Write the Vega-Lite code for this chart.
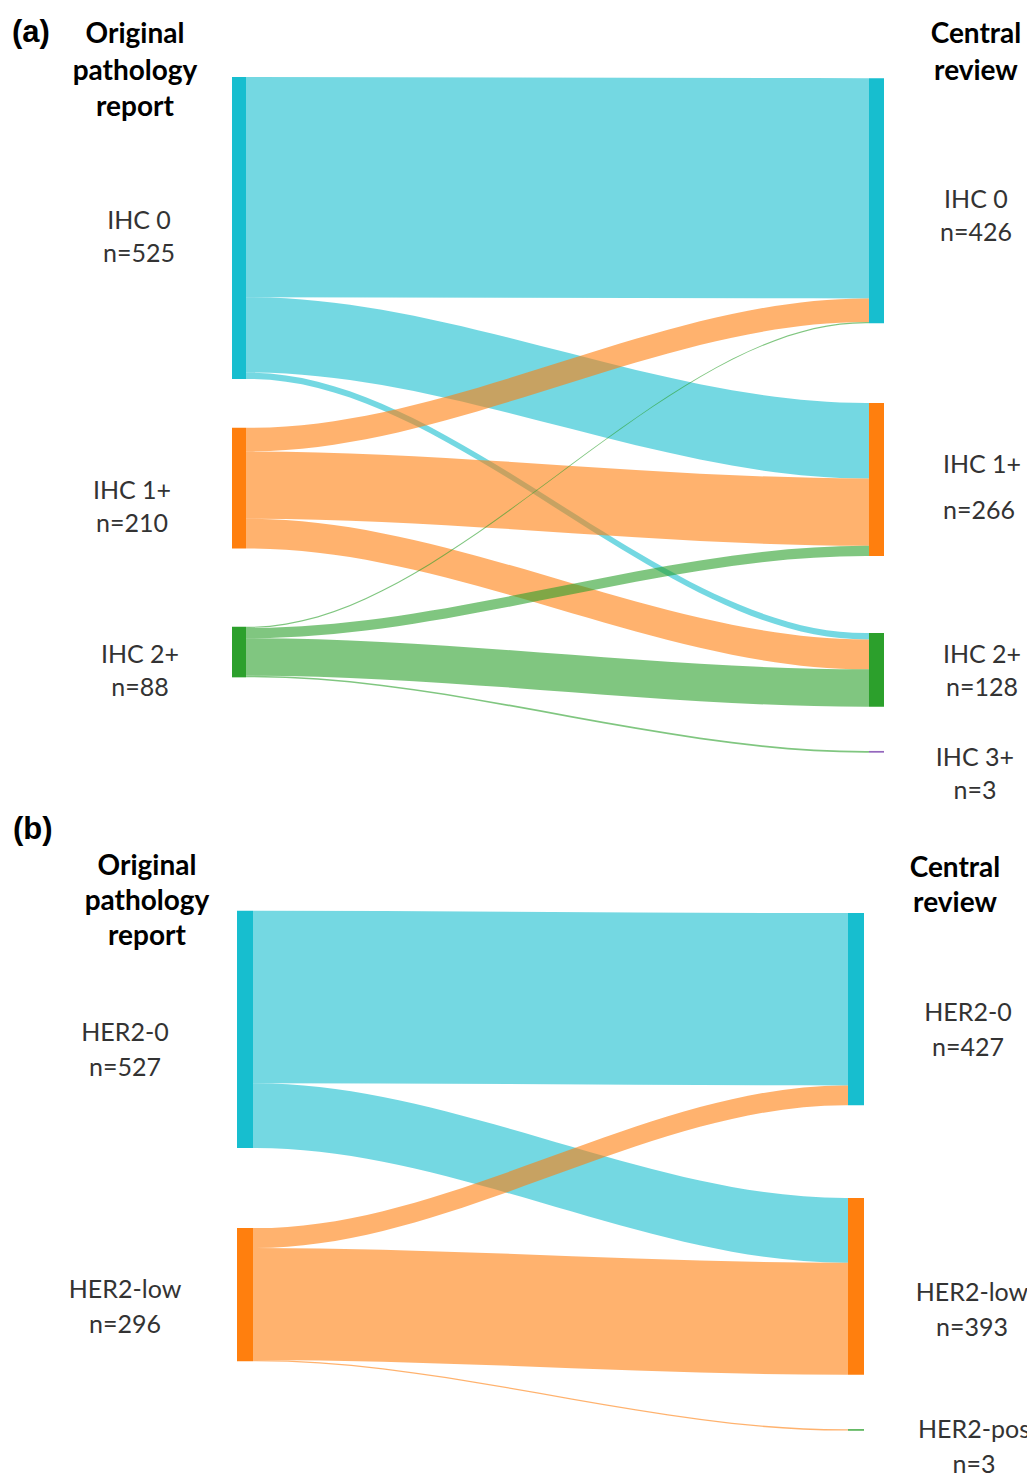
{
  "$schema": "https://vega.github.io/schema/vega-lite/v6.json",
  "padding": 0,
  "spacing": 0,
  "background": "white",
  "config": {"view": {"stroke": null}, "axis": {"disable": true}, "legend": {"disable": true}},
  "resolve": {"scale": {"x": "independent", "y": "independent"}},
  "datasets": {
    "flowsA": [
      {"flow": "F1", "src": "IHC 0", "tgt": "IHC 0", "x": [0, 0.005, 0.995, 1], "top": [134, 134, 136, 136], "bottom": [517, 517, 519, 519]},
      {"flow": "F2", "src": "IHC 0", "tgt": "IHC 1+", "x": [0, 0.005, 0.995, 1], "top": [517, 517, 701, 701], "bottom": [648, 648, 832, 832]},
      {"flow": "F3", "src": "IHC 0", "tgt": "IHC 2+", "x": [0, 0.005, 0.995, 1], "top": [648, 648, 1101, 1101], "bottom": [659, 659, 1112, 1112]},
      {"flow": "F4", "src": "IHC 1+", "tgt": "IHC 0", "x": [0, 0.005, 0.995, 1], "top": [744, 744, 519, 519], "bottom": [785, 785, 560, 560]},
      {"flow": "F5", "src": "IHC 1+", "tgt": "IHC 1+", "x": [0, 0.005, 0.995, 1], "top": [785, 785, 832, 832], "bottom": [902, 902, 949, 949]},
      {"flow": "F6", "src": "IHC 1+", "tgt": "IHC 2+", "x": [0, 0.005, 0.995, 1], "top": [902, 902, 1112, 1112], "bottom": [954, 954, 1164, 1164]},
      {"flow": "F7", "src": "IHC 2+", "tgt": "IHC 0", "x": [0, 0.005, 0.995, 1], "top": [1090, 1090, 560, 560], "bottom": [1092, 1092, 562, 562]},
      {"flow": "F8", "src": "IHC 2+", "tgt": "IHC 1+", "x": [0, 0.005, 0.995, 1], "top": [1092, 1092, 949, 949], "bottom": [1110, 1110, 967, 967]},
      {"flow": "F9", "src": "IHC 2+", "tgt": "IHC 2+", "x": [0, 0.005, 0.995, 1], "top": [1110, 1110, 1164, 1164], "bottom": [1175, 1175, 1229, 1229]},
      {"flow": "F10", "src": "IHC 2+", "tgt": "IHC 3+", "x": [0, 0.005, 0.995, 1], "top": [1175, 1175, 1306, 1306], "bottom": [1178, 1178, 1309, 1309]}
    ],
    "nodesA": [
      {"side": "L", "node": "IHC 0", "top": 134, "bottom": 659},
      {"side": "L", "node": "IHC 1+", "top": 744, "bottom": 954},
      {"side": "L", "node": "IHC 2+", "top": 1090, "bottom": 1178},
      {"side": "R", "node": "IHC 0", "top": 136, "bottom": 562},
      {"side": "R", "node": "IHC 1+", "top": 701, "bottom": 967},
      {"side": "R", "node": "IHC 2+", "top": 1101, "bottom": 1229},
      {"side": "R", "node": "IHC 3+", "top": 1306, "bottom": 1309}
    ],
    "labelsA": [
      {"role": "panel", "text": "(a)", "x": -0.3756, "y": 57},
      {"role": "title", "text": ["Original", "pathology", "report"], "x": -0.1782, "y": 60.9},
      {"role": "title", "text": ["Central", "review"], "x": 1.1717, "y": 60.9},
      {"role": "node", "text": ["IHC 0", "n=525"], "x": -0.1717, "y": 384.3},
      {"role": "node", "text": ["IHC 1+", "n=210"], "x": -0.183, "y": 853.9},
      {"role": "node", "text": ["IHC 2+", "n=88"], "x": -0.1701, "y": 1139.1},
      {"role": "node", "text": ["IHC 0", "n=426"], "x": 1.1717, "y": 347.8},
      {"role": "node", "text": "IHC 1+", "x": 1.1814, "y": 809},
      {"role": "node", "text": "n=266", "x": 1.1766, "y": 889},
      {"role": "node", "text": ["IHC 2+", "n=128"], "x": 1.1814, "y": 1139.1},
      {"role": "node", "text": ["IHC 3+", "n=3"], "x": 1.1701, "y": 1318.3}
    ],
    "flowsB": [
      {"flow": "G1", "src": "HER2-0", "tgt": "HER2-0", "x": [0, 0.005, 0.995, 1], "top": [213, 213, 218, 218], "bottom": [596, 596, 601, 601]},
      {"flow": "G2", "src": "HER2-0", "tgt": "HER2-low", "x": [0, 0.005, 0.995, 1], "top": [596, 596, 851, 851], "bottom": [740, 740, 995, 995]},
      {"flow": "G3", "src": "HER2-low", "tgt": "HER2-0", "x": [0, 0.005, 0.995, 1], "top": [918, 918, 601, 601], "bottom": [962, 962, 645, 645]},
      {"flow": "G4", "src": "HER2-low", "tgt": "HER2-low", "x": [0, 0.005, 0.995, 1], "top": [962, 962, 995, 995], "bottom": [1211, 1211, 1244, 1244]},
      {"flow": "G5", "src": "HER2-low", "tgt": "HER2-pos", "x": [0, 0.005, 0.995, 1], "top": [1211, 1211, 1365, 1365], "bottom": [1214, 1214, 1368, 1368]}
    ],
    "nodesB": [
      {"side": "L", "node": "HER2-0", "top": 213, "bottom": 740},
      {"side": "L", "node": "HER2-low", "top": 918, "bottom": 1214},
      {"side": "R", "node": "HER2-0", "top": 218, "bottom": 645},
      {"side": "R", "node": "HER2-low", "top": 851, "bottom": 1244},
      {"side": "R", "node": "HER2-pos", "top": 1365, "bottom": 1368}
    ],
    "labelsB": [
      {"role": "panel", "text": "(b)", "x": -0.4034, "y": 33},
      {"role": "title", "text": ["Original", "pathology", "report"], "x": -0.1782, "y": 115.6},
      {"role": "title", "text": ["Central", "review"], "x": 1.1798, "y": 120},
      {"role": "node", "text": ["HER2-0", "n=527"], "x": -0.2151, "y": 484.4},
      {"role": "node", "text": ["HER2-low", "n=296"], "x": -0.2151, "y": 1055.6},
      {"role": "node", "text": ["HER2-0", "n=427"], "x": 1.2017, "y": 440},
      {"role": "node", "text": ["HER2-low", "n=393"], "x": 1.2084, "y": 1062.2},
      {"role": "node", "text": ["HER2-pos", "n=3"], "x": 1.2118, "y": 1366.7}
    ]
  },
  "vconcat": [
    {
      "width": 1027,
      "height": 815,
      "layer": [
        {
          "data": {"name": "flowsA"},
          "transform": [{"flatten": ["x", "top", "bottom"]}],
          "mark": {"type": "area", "interpolate": "monotone", "opacity": 0.6},
          "encoding": {
            "x": {"field": "x", "type": "quantitative", "scale": {"domain": [-0.39486, 1.25362], "nice": false, "zero": false}},
            "y": {"field": "top", "type": "quantitative", "stack": null, "scale": {"domain": [0, 1417.4], "reverse": true, "nice": false, "zero": false}},
            "y2": {"field": "bottom"},
            "color": {"field": "src", "type": "nominal", "scale": {"domain": ["IHC 0", "IHC 1+", "IHC 2+", "IHC 3+", "HER2-0", "HER2-low", "HER2-pos"], "range": ["#17becf", "#ff7f0e", "#2ca02c", "#9467bd", "#17becf", "#ff7f0e", "#2ca02c"]}},
            "detail": {"field": "flow"}
          }
        },
        {
          "data": {"name": "nodesA"},
          "transform": [{"filter": "datum.side === 'L'"}],
          "mark": {"type": "rect"},
          "encoding": {
            "x": {"datum": -0.02247, "type": "quantitative", "scale": {"domain": [-0.39486, 1.25362], "nice": false, "zero": false}},
            "x2": {"datum": 0},
            "y": {"field": "top", "type": "quantitative", "scale": {"domain": [0, 1417.4], "reverse": true, "nice": false, "zero": false}},
            "y2": {"field": "bottom"},
            "color": {"field": "node", "type": "nominal", "scale": {"domain": ["IHC 0", "IHC 1+", "IHC 2+", "IHC 3+", "HER2-0", "HER2-low", "HER2-pos"], "range": ["#17becf", "#ff7f0e", "#2ca02c", "#9467bd", "#17becf", "#ff7f0e", "#2ca02c"]}}
          }
        },
        {
          "data": {"name": "nodesA"},
          "transform": [{"filter": "datum.side === 'R'"}],
          "mark": {"type": "rect"},
          "encoding": {
            "x": {"datum": 1, "type": "quantitative", "scale": {"domain": [-0.39486, 1.25362], "nice": false, "zero": false}},
            "x2": {"datum": 1.02408},
            "y": {"field": "top", "type": "quantitative", "scale": {"domain": [0, 1417.4], "reverse": true, "nice": false, "zero": false}},
            "y2": {"field": "bottom"},
            "color": {"field": "node", "type": "nominal", "scale": {"domain": ["IHC 0", "IHC 1+", "IHC 2+", "IHC 3+", "HER2-0", "HER2-low", "HER2-pos"], "range": ["#17becf", "#ff7f0e", "#2ca02c", "#9467bd", "#17becf", "#ff7f0e", "#2ca02c"]}}
          }
        },
        {
          "data": {"name": "labelsA"},
          "transform": [{"filter": "datum.role === 'panel'"}],
          "mark": {"type": "text", "font": "Liberation Sans", "fontWeight": "bold", "fontSize": 31, "color": "#000000", "align": "left", "baseline": "middle", "clip": true},
          "encoding": {
            "x": {"field": "x", "type": "quantitative", "scale": {"domain": [-0.39486, 1.25362], "nice": false, "zero": false}},
            "y": {"field": "y", "type": "quantitative", "scale": {"domain": [0, 1417.4], "reverse": true, "nice": false, "zero": false}},
            "text": {"field": "text"}
          }
        },
        {
          "data": {"name": "labelsA"},
          "transform": [{"filter": "datum.role === 'title'"}],
          "mark": {"type": "text", "font": "Lato", "fontWeight": "bold", "fontSize": 28, "lineHeight": 36.5, "color": "#000000", "align": "center", "baseline": "middle", "clip": true},
          "encoding": {
            "x": {"field": "x", "type": "quantitative", "scale": {"domain": [-0.39486, 1.25362], "nice": false, "zero": false}},
            "y": {"field": "y", "type": "quantitative", "scale": {"domain": [0, 1417.4], "reverse": true, "nice": false, "zero": false}},
            "text": {"field": "text"}
          }
        },
        {
          "data": {"name": "labelsA"},
          "transform": [{"filter": "datum.role === 'node'"}],
          "mark": {"type": "text", "font": "Lato", "fontSize": 25, "lineHeight": 33, "color": "#333333", "align": "center", "baseline": "middle", "clip": true},
          "encoding": {
            "x": {"field": "x", "type": "quantitative", "scale": {"domain": [-0.39486, 1.25362], "nice": false, "zero": false}},
            "y": {"field": "y", "type": "quantitative", "scale": {"domain": [0, 1417.4], "reverse": true, "nice": false, "zero": false}},
            "text": {"field": "text"}
          }
        }
      ]
    },
    {
      "width": 1027,
      "height": 659,
      "layer": [
        {
          "data": {"name": "flowsB"},
          "transform": [{"flatten": ["x", "top", "bottom"]}],
          "mark": {"type": "area", "interpolate": "monotone", "opacity": 0.6},
          "encoding": {
            "x": {"field": "x", "type": "quantitative", "scale": {"domain": [-0.42521, 1.30084], "nice": false, "zero": false}},
            "y": {"field": "top", "type": "quantitative", "stack": null, "scale": {"domain": [0, 1464.4], "reverse": true, "nice": false, "zero": false}},
            "y2": {"field": "bottom"},
            "color": {"field": "src", "type": "nominal", "scale": {"domain": ["IHC 0", "IHC 1+", "IHC 2+", "IHC 3+", "HER2-0", "HER2-low", "HER2-pos"], "range": ["#17becf", "#ff7f0e", "#2ca02c", "#9467bd", "#17becf", "#ff7f0e", "#2ca02c"]}},
            "detail": {"field": "flow"}
          }
        },
        {
          "data": {"name": "nodesB"},
          "transform": [{"filter": "datum.side === 'L'"}],
          "mark": {"type": "rect"},
          "encoding": {
            "x": {"datum": -0.02689, "type": "quantitative", "scale": {"domain": [-0.42521, 1.30084], "nice": false, "zero": false}},
            "x2": {"datum": 0},
            "y": {"field": "top", "type": "quantitative", "scale": {"domain": [0, 1464.4], "reverse": true, "nice": false, "zero": false}},
            "y2": {"field": "bottom"},
            "color": {"field": "node", "type": "nominal", "scale": {"domain": ["IHC 0", "IHC 1+", "IHC 2+", "IHC 3+", "HER2-0", "HER2-low", "HER2-pos"], "range": ["#17becf", "#ff7f0e", "#2ca02c", "#9467bd", "#17becf", "#ff7f0e", "#2ca02c"]}}
          }
        },
        {
          "data": {"name": "nodesB"},
          "transform": [{"filter": "datum.side === 'R'"}],
          "mark": {"type": "rect"},
          "encoding": {
            "x": {"datum": 1, "type": "quantitative", "scale": {"domain": [-0.42521, 1.30084], "nice": false, "zero": false}},
            "x2": {"datum": 1.02689},
            "y": {"field": "top", "type": "quantitative", "scale": {"domain": [0, 1464.4], "reverse": true, "nice": false, "zero": false}},
            "y2": {"field": "bottom"},
            "color": {"field": "node", "type": "nominal", "scale": {"domain": ["IHC 0", "IHC 1+", "IHC 2+", "IHC 3+", "HER2-0", "HER2-low", "HER2-pos"], "range": ["#17becf", "#ff7f0e", "#2ca02c", "#9467bd", "#17becf", "#ff7f0e", "#2ca02c"]}}
          }
        },
        {
          "data": {"name": "labelsB"},
          "transform": [{"filter": "datum.role === 'panel'"}],
          "mark": {"type": "text", "font": "Liberation Sans", "fontWeight": "bold", "fontSize": 31, "color": "#000000", "align": "left", "baseline": "middle", "clip": true},
          "encoding": {
            "x": {"field": "x", "type": "quantitative", "scale": {"domain": [-0.42521, 1.30084], "nice": false, "zero": false}},
            "y": {"field": "y", "type": "quantitative", "scale": {"domain": [0, 1464.4], "reverse": true, "nice": false, "zero": false}},
            "text": {"field": "text"}
          }
        },
        {
          "data": {"name": "labelsB"},
          "transform": [{"filter": "datum.role === 'title'"}],
          "mark": {"type": "text", "font": "Lato", "fontWeight": "bold", "fontSize": 28, "lineHeight": 35, "color": "#000000", "align": "center", "baseline": "middle", "clip": true},
          "encoding": {
            "x": {"field": "x", "type": "quantitative", "scale": {"domain": [-0.42521, 1.30084], "nice": false, "zero": false}},
            "y": {"field": "y", "type": "quantitative", "scale": {"domain": [0, 1464.4], "reverse": true, "nice": false, "zero": false}},
            "text": {"field": "text"}
          }
        },
        {
          "data": {"name": "labelsB"},
          "transform": [{"filter": "datum.role === 'node'"}],
          "mark": {"type": "text", "font": "Lato", "fontSize": 25, "lineHeight": 35, "color": "#333333", "align": "center", "baseline": "middle", "clip": true},
          "encoding": {
            "x": {"field": "x", "type": "quantitative", "scale": {"domain": [-0.42521, 1.30084], "nice": false, "zero": false}},
            "y": {"field": "y", "type": "quantitative", "scale": {"domain": [0, 1464.4], "reverse": true, "nice": false, "zero": false}},
            "text": {"field": "text"}
          }
        }
      ]
    }
  ]
}
